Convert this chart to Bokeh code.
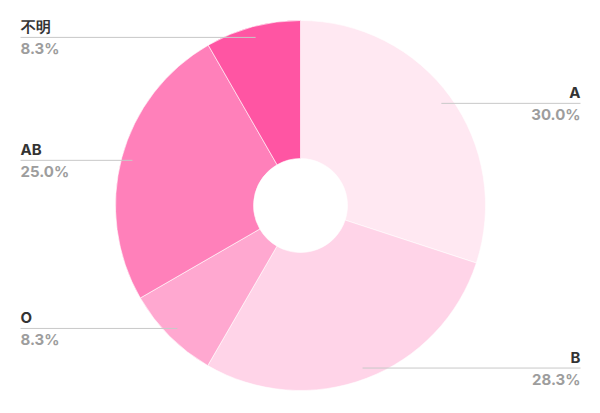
import math
from bokeh.plotting import figure
from bokeh.models import Range1d, ColumnDataSource
from bokeh.core.properties import value
from bokeh.embed import file_html
from bokeh.resources import INLINE

categories = ["A", "B", "O", "AB", "不明"]
shares = [30.0, 28.3, 8.3, 25.0, 8.3]
value_labels = ["30.0%", "28.3%", "8.3%", "25.0%", "8.3%"]
colors = ["#FFE8F2", "#FFD4E8", "#FFA8D0", "#FF80BA", "#FF55A3"]

W, H = 584, 397
cx, cy = 300, 192
R_OUT, R_IN = 185, 47
R_LEAD = 174
X_LEFT, X_RIGHT = 20, 580

p = figure(width=W, height=H, output_backend="svg", toolbar_location=None,
           x_range=Range1d(0, W), y_range=Range1d(0, H), min_border=0)
p.axis.visible = False
p.grid.visible = False
p.outline_line_color = None
p.background_fill_color = "white"
p.border_fill_color = "white"

total = sum(shares)
starts, ends, ax, ay, ex = [], [], [], [], []
cum = 0.0
for s in shares:
    a0 = cum / total * 2 * math.pi
    a1 = (cum + s) / total * 2 * math.pi
    cum += s
    starts.append(math.pi / 2 - a1)
    ends.append(math.pi / 2 - a0)
    m = (a0 + a1) / 2
    ax.append(cx + R_LEAD * math.sin(m))
    ay.append(cy + R_LEAD * math.cos(m))
    ex.append(X_RIGHT if math.sin(m) > 0 else X_LEFT)

src = ColumnDataSource(dict(start=starts, end=ends, color=colors))
p.annular_wedge(x=cx, y=cy, inner_radius=R_IN, outer_radius=R_OUT,
                start_angle="start", end_angle="end", fill_color="color",
                line_color="white", line_width=0.6, source=src)

p.segment(x0=ax, y0=ay, x1=ex, y1=ay, line_color="#c8c8c8", line_width=1)

align = ["right" if e == X_RIGHT else "left" for e in ex]
tsrc = ColumnDataSource(dict(x=ex, yn=[y + 1 for y in ay], yv=[y - 2 for y in ay],
                             name=categories, val=value_labels, align=align))
p.text(x="x", y="yn", text="name", text_align="align", text_baseline="bottom",
       text_font=value("Inter"), text_font_size="15px", text_font_style="bold",
       text_color="#333333", source=tsrc)
p.text(x="x", y="yv", text="val", text_align="align", text_baseline="top",
       text_font=value("Inter"), text_font_size="15px", text_font_style="bold",
       text_color="#9d9d9d", source=tsrc)

open("out.html", "w").write(file_html(p, INLINE))
